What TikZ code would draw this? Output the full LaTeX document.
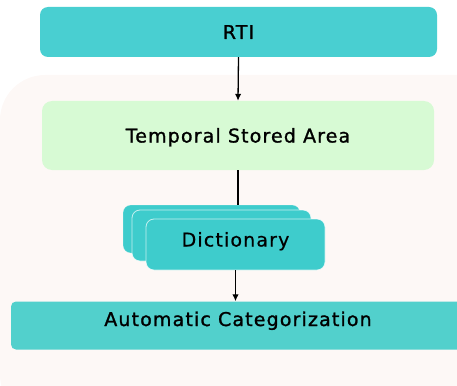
\documentclass[tikz,border=0pt]{standalone}
\usepackage{fontspec}
\setmainfont[LetterSpace=6,FakeBold=1.2]{DejaVu Sans}
\usetikzlibrary{arrows.meta,positioning}

\definecolor{rticyan}{HTML}{49CFD1}
\definecolor{dictcyan}{HTML}{3ECCCC}
\definecolor{catcyan}{HTML}{52D0CC}
\definecolor{storegreen}{HTML}{D7FAD4}
\definecolor{areapeach}{HTML}{FDF8F6}

\tikzset{
  flowbox/.style={rounded corners=8pt,align=center,font=\fontsize{19}{22}\selectfont,inner sep=2pt,text height=14pt,text depth=0pt},
  dictbox/.style={flowbox,fill=dictcyan,minimum width=179pt,minimum height=51pt},
  link/.style={draw=black,line width=1.3pt},
}

\begin{document}
\begin{tikzpicture}[x=1pt,y=-1pt,>={Latex[length=7pt,width=6.5pt]}]
\useasboundingbox (0,0) rectangle (457,385);
\clip (0,0) rectangle (457,385);
% light background area behind the lower part
\fill[areapeach,rounded corners=45pt] (0,75) rectangle (520,420);

\node[flowbox,fill=rticyan,minimum width=397pt,minimum height=50pt] (rti) at (238.5,32) {RTI};
\node[flowbox,fill=storegreen,rounded corners=10pt,minimum width=392pt,minimum height=69pt] (tsa) at (238,135.5) {Temporal Stored Area};

% stacked dictionary cards
\node[dictbox,minimum width=177pt,minimum height=48pt,draw=white,draw opacity=0.25,line width=0.7pt] (d1) at (211.5,229) {};
\node[dictbox,draw=white,draw opacity=0.7,line width=0.8pt] (d2) at (221.5,235.5) {};
\node[dictbox,draw=white,draw opacity=0.7,line width=0.8pt,text depth=10pt] (d3) at (235.5,244.5) {Dictionary};

\node[flowbox,fill=catcyan,rounded corners=5pt,minimum width=454pt,minimum height=48pt,text depth=13pt] (cat) at (238,325.5) {Automatic Categorization};

\draw[link,->] (rti.south) -- (tsa.north);
\draw[link] (tsa.south) -- (tsa.south |- d1.north);
\draw[link,->] (d3.south) -- (d3.south |- cat.north);
\end{tikzpicture}
\end{document}
